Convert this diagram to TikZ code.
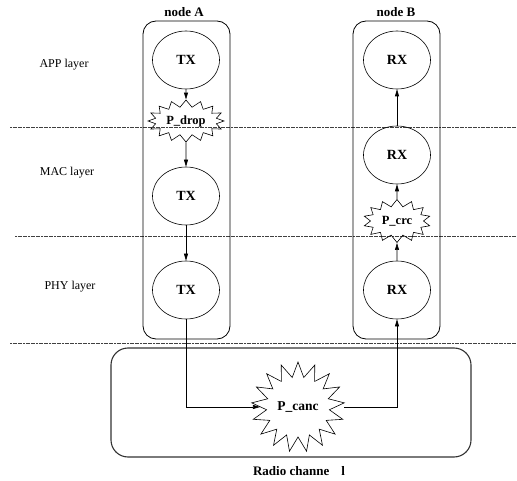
\documentclass[tikz,border=0pt]{standalone}
\usepackage{fontspec}
\setmainfont{Liberation Serif}
\usetikzlibrary{shapes.geometric,shapes.symbols,arrows.meta}

\begin{document}
\begin{tikzpicture}[x=1pt,y=-1pt,
  proc/.style={draw, ellipse, minimum width=67pt, minimum height=58pt,
    inner sep=0pt, font=\fontsize{14}{16}\selectfont\bfseries, line width=0.6pt},
  loss/.style={draw, starburst, random starburst=0,
    font=\fontsize{12.5}{14}\selectfont\bfseries, line width=0.6pt, inner sep=0pt},
  flow/.style={-{Triangle[length=7pt,width=4pt]}, line width=0.6pt},
  sep/.style={dash pattern=on 2pt off 0.6pt, line width=0.6pt, black!75},
  container/.style={draw, rounded corners=13pt, line width=0.8pt,
    minimum width=87pt, minimum height=318pt, inner sep=0pt},
  layername/.style={font=\fontsize{12}{14}\selectfont},
  title/.style={font=\fontsize{13}{15}\selectfont\bfseries}]
\useasboundingbox (0,0) rectangle (517,481);

% layer separators
\draw[sep] (10,127) -- (517,127);
\draw[sep] (15,236) -- (517,236);
\draw[sep] (10,343) -- (517,343);

% layer names
\node[layername] (app) at (64,65) {APP layer};
\node[layername] (mac) at (67,173) {MAC layer};
\node[layername] (phy) at (70,287) {PHY layer};

% the two nodes
\node[container] (boxA) at (186.5,180) {};
\node[container] (boxB) at (396.5,180) {};
\node[title] (labA) at (184,12) {node A};
\node[title] (labB) at (396,12) {node B};

% radio channel
\node[draw, rounded corners=17pt, line width=1.1pt, black!80,
  minimum width=360pt, minimum height=109pt, inner sep=0pt]
  (radio) at (291,402.5) {};
\node[title] (labR) at (299,471) {Radio channe\hspace{12pt}l};

% sender stack
\node[proc] (txa) at (186,60) {TX};
\node[loss, minimum width=76pt, minimum height=42pt,
  starburst points=16, starburst point height=7pt] (drop) at (186,121) {P\_drop};
\node[proc] (txm) at (186,196) {TX};
\node[proc] (txp) at (186,290) {TX};

% receiver stack
\node[proc] (rxa) at (397,60) {RX};
\node[proc] (rxm) at (397,155) {RX};
\node[loss, minimum width=67pt, minimum height=43pt,
  starburst points=14, starburst point height=7pt] (crc) at (397,221) {P\_crc};
\node[proc] (rxp) at (397,290) {RX};

% channel loss
\node[loss, font=\fontsize{13.5}{15}\selectfont\bfseries,
  minimum width=93pt, minimum height=90pt,
  starburst points=17, starburst point height=15pt] (canc) at (298,407) {P\_canc};

% flows
\draw[flow] (txa) -- (drop);
\draw[flow] (drop) -- (txm);
\draw[flow] (txm) -- (txp);
\draw[flow] (txp.south) |- (canc.west);
\draw[flow] ([xshift=8pt]canc.east) -| (rxp.south);
\draw[flow] (rxp) -- (crc);
\draw[flow] (crc) -- (rxm);
\draw[flow] (rxm) -- (rxa);
\end{tikzpicture}
\end{document}
